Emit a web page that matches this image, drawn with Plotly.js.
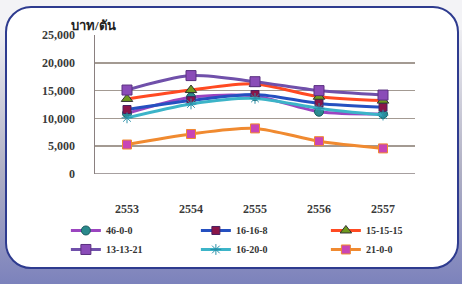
<!DOCTYPE html>
<html><head><meta charset="utf-8">
<script src="https://cdn.plot.ly/plotly-3.0.1.min.js"></script>
<style>
html,body{margin:0;padding:0;width:462px;height:284px;overflow:hidden;background:#f3f3f6;}
#shadow{position:absolute;left:0;top:30px;width:462px;height:254px;background:linear-gradient(to bottom,#eeeef2 0%,#b0b0c4 55%,#7c82bc 100%);}
#card{position:absolute;left:5px;top:6px;width:450px;height:259px;background:#fff;border:2px solid #2e3b8f;border-radius:26px;}
#chart{position:absolute;left:0;top:0;width:462px;height:284px;}
</style></head><body>
<div id="shadow"></div>
<div id="card"></div>
<div id="chart"></div>
<script>
const years = ['2553','2554','2555','2556','2557'];
const s46_0_0   = [10900, 13800, 14000, 11200, 10800];
const s16_16_8  = [11600, 13200, 14300, 12700, 12000];
const s15_15_15 = [13500, 15100, 16200, 13900, 13200];
const s13_13_21 = [15100, 17700, 16600, 15000, 14200];
const s16_20_0  = [10100, 12600, 13600, 11800, 10600];
const s21_0_0   = [5300, 7200, 8200, 5900, 4600];
const yTicks = [0, 5000, 10000, 15000, 20000, 25000];

function tr(name, y, lineColor, mColor, mLine, symbol, msize){
  return {x: years, y: y, name: name, type:'scatter', mode:'lines+markers',
    line:{color: lineColor, width: 3, shape:'spline', smoothing:0.8},
    marker:{color: mColor, size: msize||9, symbol: symbol, line:{color: mLine, width:1}}};
}
const data = [
  tr('46-0-0', s46_0_0, '#9b45c0', '#2a8a8c', '#1a5a60', 'circle', 9),
  tr('16-16-8', s16_16_8, '#2550c0', '#8a1548', '#4a2060', 'square', 8),
  tr('15-15-15', s15_15_15, '#ff4a22', '#6e9a1e', '#333', 'triangle-up', 10),
  tr('13-13-21', s13_13_21, '#7050aa', '#8a4cb8', '#5a3080', 'square', 10),
  tr('16-20-0', s16_20_0, '#3cb4c8', '#3cb4c8', '#2a90a8', 'asterisk', 9),
  tr('21-0-0', s21_0_0, '#f08a30', '#c845b5', '#f08a30', 'square', 9)
];
const font = {family:'"Liberation Serif", "Times New Roman", serif', color:'#3a3a3a', size:11};
const layout = {
  width:462, height:284,
  margin:{l:95, r:47, t:35, b:110},
  paper_bgcolor:'rgba(0,0,0,0)', plot_bgcolor:'rgba(0,0,0,0)',
  font: font,
  showlegend:true,
  xaxis:{type:'category', range:[-0.5,4.5], showgrid:false, zeroline:false,
    showline:false, ticks:'', ticklabelstandoff:26,
    tickfont:{family:font.family, size:12, color:'#3a3a3a', weight:'bold'}},
  yaxis:{range:[0,25000], tickvals:yTicks, tickformat:',d', showgrid:true,
    gridcolor:'#a39a92', gridwidth:1.5, zeroline:false, showline:true,
    linecolor:'#8a8080', linewidth:1.5, ticks:'', ticklabelstandoff:16,
    tickfont:{family:font.family, size:12, color:'#3a3a3a', weight:'bold'}},
  shapes:[{type:'line', xref:'paper', yref:'y', x0:0, x1:1, y0:0, y1:0, line:{color:'#8a8080', width:1.5}}],
  annotations:[{text:'บาท/ตัน', xref:'paper', yref:'paper', x:-0.08, y:1.0, xanchor:'left', yanchor:'bottom',
    showarrow:false, font:{family:'"Liberation Serif", "DejaVu Sans", serif', size:13, color:'#222', weight:'bold'}}],
  legend:{orientation:'h', x:-0.091, xanchor:'left', y:-0.302, yanchor:'top',
    entrywidth:85, tracegroupgap:0, bgcolor:'rgba(0,0,0,0)',
    font:{family:font.family, size:10, color:'#333', weight:'bold'}}
};
Plotly.newPlot('chart', data, layout, {displayModeBar:false, staticPlot:true});
</script>
</body></html>
